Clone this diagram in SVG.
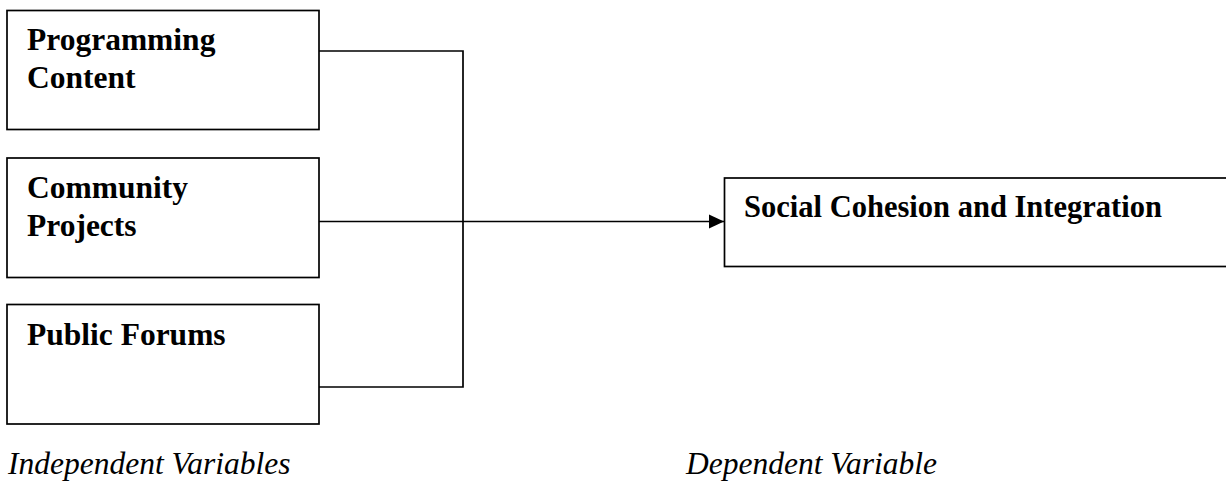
<svg xmlns="http://www.w3.org/2000/svg" width="1226" height="489" viewBox="0 0 1226 489">
<style>
.box{fill:#fff;stroke:#000;stroke-width:1.7}
.lbl{font-family:"Liberation Serif","Times New Roman",serif;font-weight:bold;font-size:31.5px;fill:#000}
.cap{font-family:"Liberation Serif","Times New Roman",serif;font-style:italic;font-size:31.5px;fill:#000}
.con{fill:none;stroke:#000;stroke-width:1.7}
</style>
<defs>
<marker id="arr" markerUnits="userSpaceOnUse" markerWidth="16" markerHeight="16" refX="15" refY="8" orient="auto">
<path d="M0,1 L15,8 L0,15 Z" fill="#000"/>
</marker>
</defs>
<rect width="1226" height="489" fill="#fff"/>
<g id="connectors">
<path class="con" d="M319,51 H463 V387 H319"/>
<path class="con" d="M319,221.5 H724" marker-end="url(#arr)"/>
</g>
<g id="programming-content">
<rect class="box" x="7" y="10.5" width="312" height="119"/>
<text class="lbl" x="27" y="50">Programming</text>
<text class="lbl" x="27" y="88">Content</text>
</g>
<g id="community-projects">
<rect class="box" x="7" y="158" width="312" height="119.5"/>
<text class="lbl" x="27" y="198">Community</text>
<text class="lbl" x="27" y="236">Projects</text>
</g>
<g id="public-forums">
<rect class="box" x="7" y="304.5" width="312" height="119.5"/>
<text class="lbl" x="27" y="345">Public Forums</text>
</g>
<g id="social-cohesion">
<rect class="box" x="724.5" y="178" width="520" height="88.5"/>
<text class="lbl" x="744" y="216.5" textLength="418" lengthAdjust="spacingAndGlyphs">Social Cohesion and Integration</text>
</g>
<text class="cap" x="8" y="474">Independent Variables</text>
<text class="cap" x="686" y="474">Dependent Variable</text>
</svg>
